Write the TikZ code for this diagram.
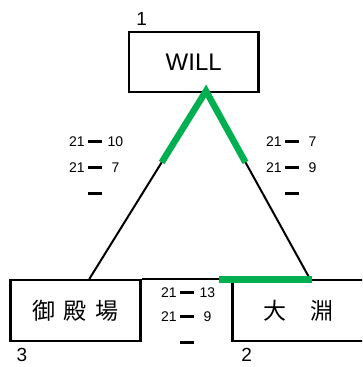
\documentclass[tikz,border=0pt]{standalone}
\usepackage{fontspec}
\usetikzlibrary{calc}
\setmainfont{Liberation Sans}
\newfontfamily\jp{Noto Sans CJK JP}
\definecolor{grn}{HTML}{00B050}
\newcommand{\scl}[2]{\makebox[15.6pt][l]{#1}\hspace{3.6pt}\rule[4pt]{14pt}{2.6pt}\hspace{5pt}\makebox[16pt][c]{#2}}
\begin{document}
\begin{tikzpicture}[x=1pt,y=-1pt,
  box/.style={draw=black,line width=2.5pt,inner sep=0pt},
  tri/.style={draw=black,line width=2pt},
  hot/.style={draw=grn,line width=6.5pt,line join=miter,miter limit=10},
  sc/.style={font=\fontsize{14}{16}\selectfont,inner sep=0pt,anchor=base west},
  num/.style={font=\fontsize{19}{21}\selectfont,inner sep=0pt}]
\useasboundingbox (0,0) rectangle (362,367);
\clip (0,0) rectangle (362,367);
% boxes
\node[box,minimum width=129.5pt,minimum height=60pt,font=\fontsize{24}{26}\selectfont] (will) at (193.75,61.75) {WILL};
\node[box,minimum width=130pt,minimum height=61pt,font=\jp\fontsize{23}{25}\selectfont] (gtb) at (75.5,310.5) {御\hspace{9pt}殿\hspace{9pt}場};
\node[box,minimum width=132pt,minimum height=61pt,font=\jp\fontsize{23}{25}\selectfont] (obc) at (298.5,310.5) {大\hspace{25pt}淵};
% numbers
\node[num] (n1) at (141.7,19) {1};
\node[num] (n2) at (246.7,354.5) {2};
\node[num] (n3) at (22,354.5) {3};
% connectors
\coordinate (apex) at (206,91);
\coordinate (le) at (89.3,279);
\coordinate (re) at (310,279);
\draw[tri] (apex) -- (le);
\draw[tri] (apex) -- (re);
\draw[tri] (gtb.north east) -- (obc.north west);
\draw[hot] ($(apex)!0.38!(le)$) -- (apex) -- ($(apex)!0.38!(re)$);
\coordinate (gs) at (218.5,279.5);
\coordinate (ge) at (312,279.5);
\draw[draw=grn,line width=6.5pt] (gs) -- (ge);
% scores
\node[sc] (l1) at (69,146.7) {\scl{21}{10}};
\node[sc] (l2) at (69,172.7) {\scl{21}{7}};
\node[sc] (l3) at (69,198.7) {\scl{}{}};
\node[sc] (r1) at (266,146.7) {\scl{21}{7}};
\node[sc] (r2) at (266,172.7) {\scl{21}{9}};
\node[sc] (r3) at (266,198.7) {\scl{}{}};
\node[sc] (b1) at (161,297.7) {\scl{21}{13}};
\node[sc] (b2) at (161,321.7) {\scl{21}{9}};
\node[sc] (b3) at (161,347.7) {\scl{}{}};
\end{tikzpicture}
\end{document}
